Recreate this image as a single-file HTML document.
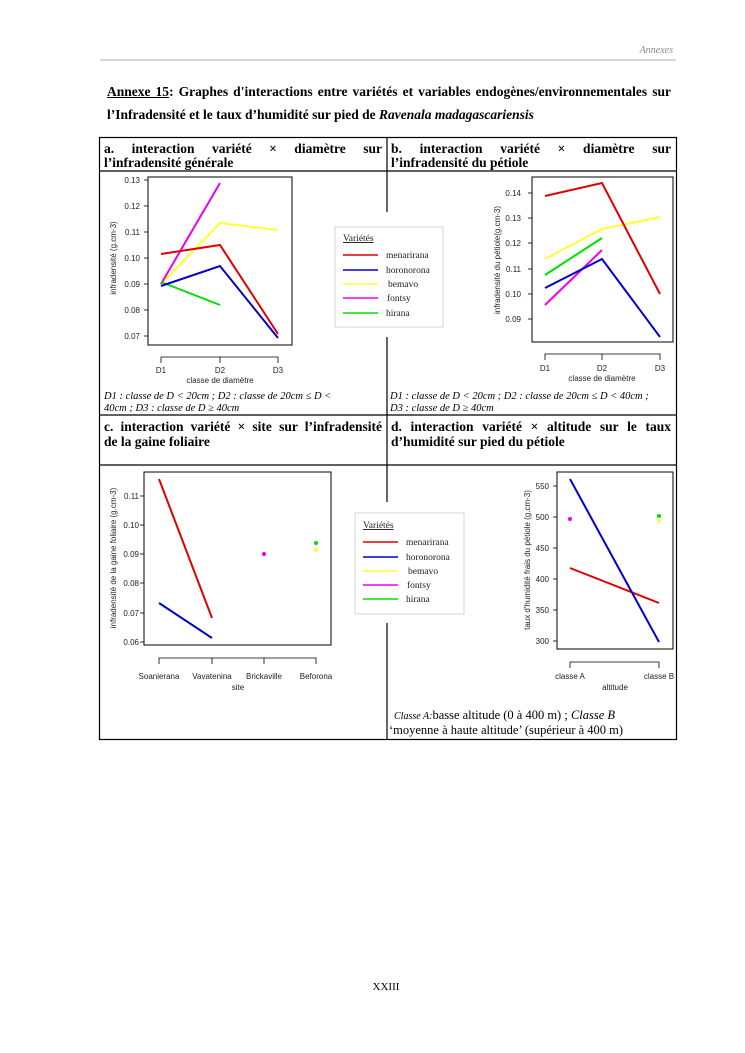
<!DOCTYPE html>
<html><head><meta charset="utf-8"><style>
body{margin:0;background:#fff;position:relative;width:745px;height:1053px}
svg{display:block;position:absolute;left:0;top:0}
.s{font-family:"Liberation Serif",serif}
.a{font-family:"Liberation Sans",sans-serif;font-size:8px;fill:#222}
.c{font-family:"Liberation Serif",serif;font-style:italic;font-size:10.5px}
.l{font-family:"Liberation Serif",serif;font-size:9.5px;fill:#222}
.j{position:absolute;font-family:"Liberation Serif",serif;font-weight:bold;font-size:13.5px;white-space:nowrap;text-align:justify;text-align-last:justify;line-height:14px}
.n{position:absolute;font-family:"Liberation Serif",serif;font-weight:bold;font-size:13.5px;white-space:nowrap;line-height:14px}
</style></head><body>
<svg width="745" height="1053" viewBox="0 0 745 1053" xmlns="http://www.w3.org/2000/svg">
<rect width="745" height="1053" fill="#fff"/>
<text x="673" y="53" text-anchor="end" class="s" font-style="italic" font-size="10" fill="#888">Annexes</text>
<line x1="100" y1="60" x2="676" y2="60" stroke="#999" stroke-width="0.8"/>
<g stroke="#000" stroke-width="1.2" fill="none">
<rect x="99.5" y="137.5" width="577" height="602"/>
<line x1="99" y1="171" x2="676" y2="171"/>
<line x1="99" y1="415" x2="676" y2="415"/>
<line x1="99" y1="465" x2="676" y2="465"/>
<line x1="387" y1="137" x2="387" y2="212"/>
<line x1="387" y1="337" x2="387" y2="502"/>
<line x1="387" y1="623" x2="387" y2="739"/>
</g>

<!-- Chart a -->
<rect x="148" y="177" width="144" height="168" fill="none" stroke="#000" stroke-width="1"/>
<g class="a" text-anchor="end">
<text x="140" y="183">0.13</text><text x="140" y="209">0.12</text><text x="140" y="235">0.11</text><text x="140" y="261">0.10</text><text x="140" y="287">0.09</text><text x="140" y="313">0.08</text><text x="140" y="339">0.07</text>
</g>
<g stroke="#000" stroke-width="0.8"><line x1="144" y1="180" x2="148" y2="180"/><line x1="144" y1="206" x2="148" y2="206"/><line x1="144" y1="232" x2="148" y2="232"/><line x1="144" y1="258" x2="148" y2="258"/><line x1="144" y1="284" x2="148" y2="284"/><line x1="144" y1="310" x2="148" y2="310"/><line x1="144" y1="336" x2="148" y2="336"/>
<polyline points="161,363 161,357 278,357 278,363" fill="none"/><line x1="220" y1="357" x2="220" y2="363"/></g>
<g class="a" text-anchor="middle"><text x="161" y="373">D1</text><text x="220" y="373">D2</text><text x="278" y="373">D3</text><text x="220" y="383">classe de diamètre</text></g>
<text transform="translate(116,258) rotate(-90)" class="a" text-anchor="middle">infradensité (g.cm-3)</text>
<g fill="none" stroke-width="2">
<polyline stroke="#ffff33" points="161,284 220,223 278,230"/>
<polyline stroke="#ee00ee" points="161,284 220,183"/>
<polyline stroke="#00e000" points="161,282 220,305"/>
<polyline stroke="#0000cc" points="161,286 220,266 278,338"/>
<polyline stroke="#e00000" points="161,254 220,245 278,334"/>
</g>
<text x="104" y="399" class="c">D1 : classe de D &lt; 20cm ; D2 : classe de 20cm ≤ D &lt;</text>
<text x="104" y="411" class="c">40cm ; D3 : classe de D ≥ 40cm</text>

<!-- Legend 1 -->
<rect x="335" y="227" width="108" height="100" fill="#fff" stroke="#ccc" stroke-width="0.8"/>
<text x="343" y="241" class="l" text-decoration="underline">Variétés</text>
<g stroke-width="1.6"><line x1="343" y1="255" x2="378" y2="255" stroke="#e00000"/><line x1="343" y1="270" x2="378" y2="270" stroke="#0000cc"/><line x1="343" y1="284" x2="378" y2="284" stroke="#ffff33"/><line x1="343" y1="298" x2="378" y2="298" stroke="#ee00ee"/><line x1="343" y1="313" x2="378" y2="313" stroke="#00e000"/></g>
<g class="l"><text x="386" y="258">menarirana</text><text x="386" y="273">horonorona</text><text x="388" y="287">bemavo</text><text x="387" y="301">fontsy</text><text x="386" y="316">hirana</text></g>

<!-- Chart b -->
<rect x="532" y="177" width="141" height="165" fill="none" stroke="#000" stroke-width="1"/>
<g class="a" text-anchor="end">
<text x="521" y="196">0.14</text><text x="521" y="221">0.13</text><text x="521" y="246">0.12</text><text x="521" y="272">0.11</text><text x="521" y="297">0.10</text><text x="521" y="322">0.09</text></g>
<g stroke="#000" stroke-width="0.8"><line x1="528" y1="193" x2="532" y2="193"/><line x1="528" y1="218" x2="532" y2="218"/><line x1="528" y1="243" x2="532" y2="243"/><line x1="528" y1="269" x2="532" y2="269"/><line x1="528" y1="294" x2="532" y2="294"/><line x1="528" y1="319" x2="532" y2="319"/>
<polyline points="545,360 545,354 660,354 660,360" fill="none"/><line x1="602" y1="354" x2="602" y2="360"/></g>
<g class="a" text-anchor="middle"><text x="545" y="371">D1</text><text x="602" y="371">D2</text><text x="660" y="371">D3</text><text x="602" y="381">classe de diamètre</text></g>
<text transform="translate(500,260) rotate(-90)" class="a" text-anchor="middle">infradensité du pétiole(g.cm-3)</text>
<g fill="none" stroke-width="2">
<polyline stroke="#ffff33" points="545,259 602,229 660,217"/>
<polyline stroke="#00e000" points="545,275 602,238"/>
<polyline stroke="#ee00ee" points="545,305 602,250"/>
<polyline stroke="#0000cc" points="545,288 602,259 660,337"/>
<polyline stroke="#e00000" points="545,196 602,183 660,294"/>
</g>
<text x="390" y="399" class="c">D1 : classe de D &lt; 20cm ; D2 : classe de 20cm ≤ D &lt; 40cm ;</text>
<text x="390" y="411" class="c">D3 : classe de D ≥ 40cm</text>

<!-- Chart c -->
<rect x="144" y="472" width="187" height="173" fill="none" stroke="#000" stroke-width="1"/>
<g class="a" text-anchor="end">
<text x="139" y="499">0.11</text><text x="139" y="528">0.10</text><text x="139" y="557">0.09</text><text x="139" y="586">0.08</text><text x="139" y="616">0.07</text><text x="139" y="645">0.06</text></g>
<g stroke="#000" stroke-width="0.8"><line x1="140" y1="496" x2="144" y2="496"/><line x1="140" y1="525" x2="144" y2="525"/><line x1="140" y1="554" x2="144" y2="554"/><line x1="140" y1="583" x2="144" y2="583"/><line x1="140" y1="613" x2="144" y2="613"/><line x1="140" y1="642" x2="144" y2="642"/>
<polyline points="159,664 159,658 316,658 316,664" fill="none"/><line x1="212" y1="658" x2="212" y2="664"/><line x1="264" y1="658" x2="264" y2="664"/></g>
<g class="a" text-anchor="middle"><text x="159" y="679">Soanierana</text><text x="212" y="679">Vavatenina</text><text x="264" y="679">Brickaville</text><text x="316" y="679">Beforona</text><text x="238" y="690">site</text></g>
<text transform="translate(116,558) rotate(-90)" class="a" text-anchor="middle">infradensité de la gaine foliaire (g.cm-3)</text>
<g fill="none" stroke-width="2">
<polyline stroke="#e00000" points="159,479 212,618"/>
<polyline stroke="#0000cc" points="159,603 212,638"/></g>
<circle cx="264" cy="554" r="2" fill="#ee00ee"/><circle cx="316" cy="543" r="2" fill="#00e000"/><circle cx="316" cy="550" r="2" fill="#ffff33"/>

<!-- Legend 2 -->
<rect x="355" y="513" width="109" height="101" fill="#fff" stroke="#ccc" stroke-width="0.8"/>
<text x="363" y="528" class="l" text-decoration="underline">Variétés</text>
<g stroke-width="1.6"><line x1="363" y1="542" x2="398" y2="542" stroke="#e00000"/><line x1="363" y1="557" x2="398" y2="557" stroke="#0000cc"/><line x1="363" y1="571" x2="398" y2="571" stroke="#ffff33"/><line x1="363" y1="585" x2="398" y2="585" stroke="#ee00ee"/><line x1="363" y1="599" x2="398" y2="599" stroke="#00e000"/></g>
<g class="l"><text x="406" y="545">menarirana</text><text x="406" y="560">horonorona</text><text x="408" y="574">bemavo</text><text x="407" y="588">fontsy</text><text x="406" y="602">hirana</text></g>

<!-- Chart d -->
<rect x="557" y="472" width="116" height="177" fill="none" stroke="#000" stroke-width="1"/>
<g class="a" text-anchor="end">
<text x="549" y="489">550</text><text x="549" y="520">500</text><text x="549" y="551">450</text><text x="549" y="582">400</text><text x="549" y="613">350</text><text x="549" y="644">300</text></g>
<g stroke="#000" stroke-width="0.8"><line x1="553" y1="486" x2="557" y2="486"/><line x1="553" y1="517" x2="557" y2="517"/><line x1="553" y1="548" x2="557" y2="548"/><line x1="553" y1="579" x2="557" y2="579"/><line x1="553" y1="610" x2="557" y2="610"/><line x1="553" y1="641" x2="557" y2="641"/>
<polyline points="570,668 570,662 659,662 659,668" fill="none"/></g>
<g class="a" text-anchor="middle"><text x="570" y="679">classe A</text><text x="659" y="679">classe B</text><text x="615" y="690">altitude</text></g>
<text transform="translate(530,560) rotate(-90)" class="a" text-anchor="middle">taux d'humidité frais du pétiole (g.cm-3)</text>
<g fill="none" stroke-width="2">
<polyline stroke="#e00000" points="570,568 659,603"/>
<polyline stroke="#0000cc" points="570,479 659,642"/></g>
<circle cx="570" cy="519" r="2" fill="#ee00ee"/><circle cx="659" cy="516" r="2" fill="#00e000"/><circle cx="659" cy="521" r="2" fill="#ffff33"/>
<text x="394" y="719" class="s" font-size="12.5"><tspan font-style="italic" font-size="10">Classe A:</tspan>basse altitude (0 à 400 m) ; <tspan font-style="italic">Classe B</tspan></text>
<text x="389" y="734" class="s" font-size="12.5">‘moyenne à haute altitude’ (supérieur à 400 m)</text>

<text x="386" y="990" text-anchor="middle" class="s" font-size="11">XXIII</text>
</svg>

<div class="j" style="left:107px;top:85px;width:564px"><span style="text-decoration:underline">Annexe 15</span>: Graphes d'interactions entre variétés et variables endogènes/environnementales  sur</div>
<div class="n" style="left:107px;top:108px">l’Infradensité et le taux d’humidité sur pied de <i>Ravenala madagascariensis</i></div>

<div class="j" style="left:104px;top:142px;width:278px">a. interaction variété × diamètre sur</div>
<div class="n" style="left:104px;top:156px">l’infradensité générale</div>
<div class="j" style="left:391px;top:142px;width:280px">b. interaction variété × diamètre sur</div>
<div class="n" style="left:391px;top:156px">l’infradensité du pétiole</div>
<div class="j" style="left:104px;top:420px;width:278px">c. interaction variété × site sur l’infradensité</div>
<div class="n" style="left:104px;top:435px">de la gaine foliaire</div>
<div class="j" style="left:391px;top:420px;width:280px">d. interaction variété × altitude sur le taux</div>
<div class="n" style="left:391px;top:435px">d’humidité sur pied du pétiole</div>
</body></html>
